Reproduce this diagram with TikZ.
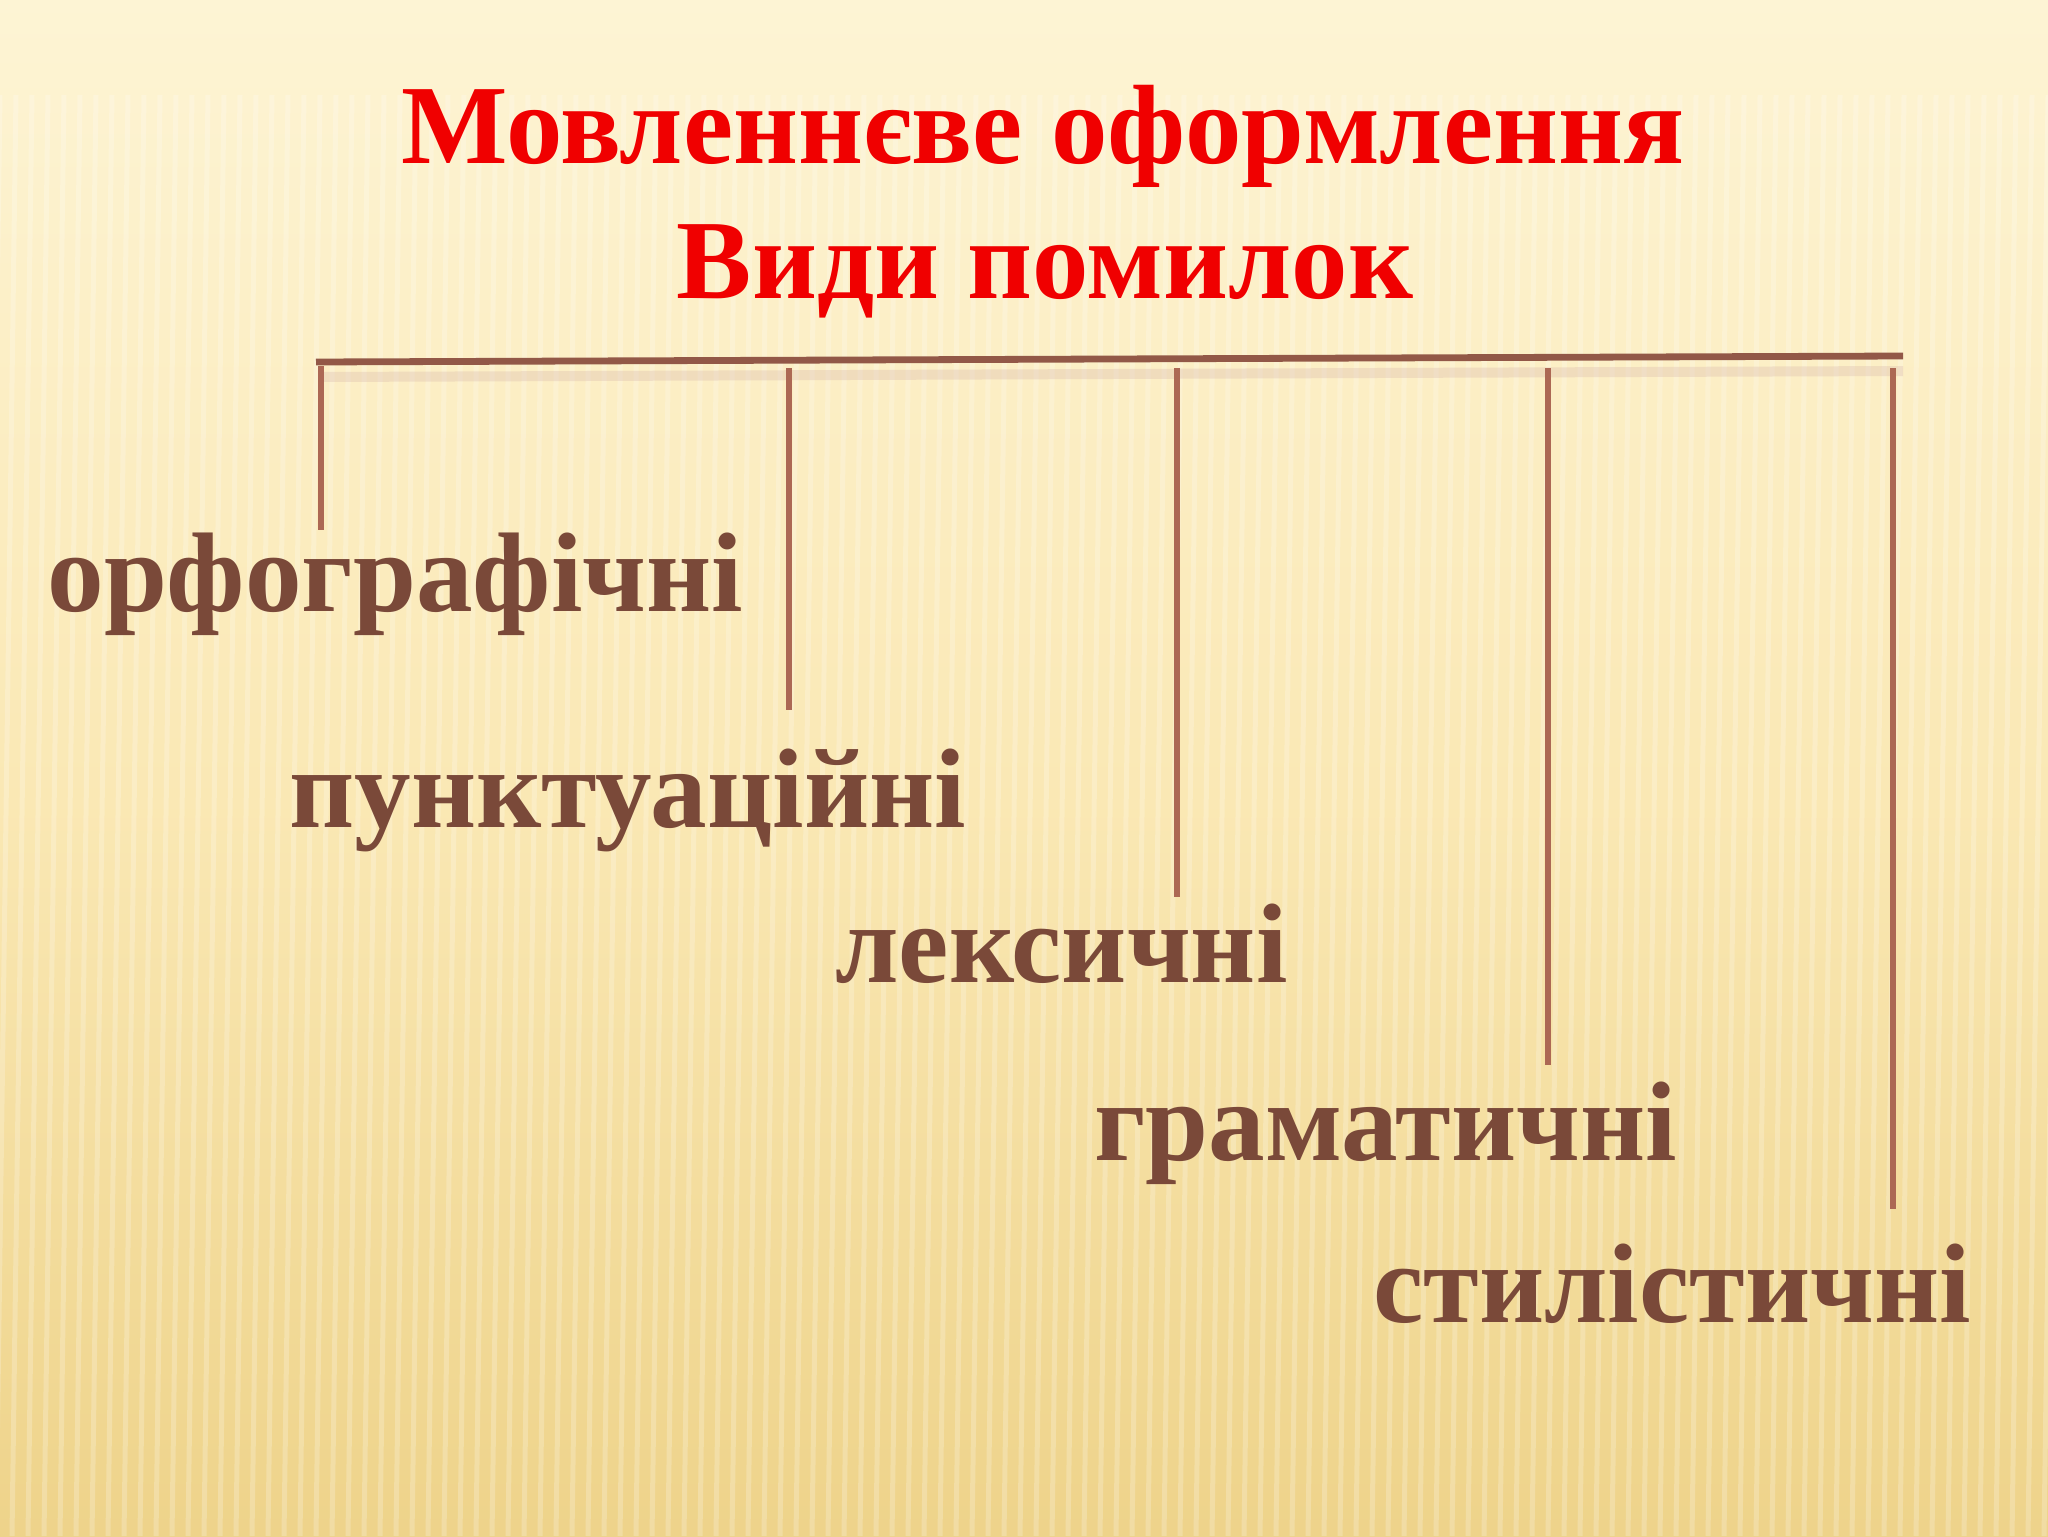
\documentclass[tikz,border=0pt]{standalone}
\usepackage{fontspec}
\setmainfont{Liberation Serif}
\usetikzlibrary{calc}
\definecolor{bgtop}{RGB}{253,244,212}
\definecolor{bgmid}{RGB}{250,232,180}
\definecolor{bgbot}{RGB}{238,211,138}
\definecolor{rodcol}{RGB}{172,104,84}
\definecolor{kindcol}{RGB}{122,73,57}
\definecolor{headcol}{RGB}{240,0,0}
\tikzset{
	kindtext/.style={text=kindcol, font=\fontsize{56.6}{60}\selectfont\bfseries, inner sep=0pt, anchor=base west},
	headtext/.style={text=headcol, font=\fontsize{56.4}{60}\selectfont\bfseries, inner sep=0pt, anchor=base},
	rodline/.style={draw=rodcol, line width=3pt},
	barline/.style={draw=rodcol!85!black, line width=3.4pt}
}

\begin{document}
\begin{tikzpicture}[x=0.5pt,y=-0.5pt]
	\useasboundingbox (0,0) rectangle (2048,1536);
	\shade[top color=bgtop, bottom color=bgmid] (0,0) rectangle (2048,800);
	\shade[top color=bgmid, bottom color=bgbot] (0,800) rectangle (2048,1536);
	\foreach \i in {0,16,...,2064} {
		\draw[white, opacity=0.22, line width=2.5pt] (\i,95) -- (\i-20,1536);}

	\node[headtext] (title) at (1043,163) {Мовленнєве оформлення};
	\node[headtext] (subtitle) at (1045,298) {Види помилок};

	\coordinate (barL) at (316,362);
	\coordinate (barR) at (1903,356);
	\draw[white!50!rodcol, opacity=0.3, line width=5pt] ($(barL)+(6,15)$) -- ($(barR)+(0,15)$);
	\draw[barline] (barL) -- (barR);

	\node[kindtext] (orfo) at (47,611) {орфографічні};
	\node[kindtext] (punkt) at (289,827) {пунктуаційні};
	\node[kindtext] (leks) at (835,982) {лексичні};
	\node[kindtext] (gram) at (1094,1160) {граматичні};
	\node[kindtext] (styl) at (1373,1322) {стилістичні};

	\coordinate (d1) at (321,366);
	\coordinate (d2) at (789,368);
	\coordinate (d3) at (1177,368);
	\coordinate (d4) at (1548,368);
	\coordinate (d5) at (1893,368);
	\draw[rodline, shorten >=1pt] (d1) -- (d1 |- orfo.north);
	\draw[rodline, shorten >=19pt] (d2) -- (d2 |- punkt.north);
	\draw[rodline, shorten >=3pt] (d3) -- (d3 |- leks.north);
	\draw[rodline, shorten >=8pt] (d4) -- (d4 |- gram.north);
	\draw[rodline, shorten >=17pt] (d5) -- (d5 |- styl.north);
\end{tikzpicture}
\end{document}
